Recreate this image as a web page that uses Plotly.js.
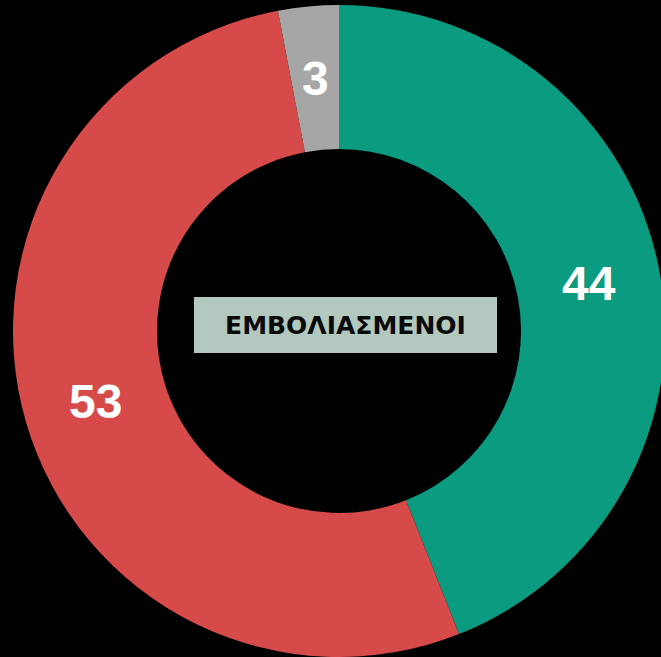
<!DOCTYPE html>
<html><head><meta charset="utf-8">
<script src="https://cdn.plot.ly/plotly-3.0.1.min.js"></script>
<style>html,body{margin:0;padding:0;background:#000;overflow:hidden;width:661px;height:657px}</style>
</head><body><div id="chart"></div>
<script>
const labels = ["Green", "Red", "Gray"];
const values = [44, 53, 3];
const colors = ["#0a9b80", "#d64a4a", "#a6a6a6"];
const centerLabel = "ΕΜΒΟΛΙΑΣΜΕΝΟΙ";

const W = 678, H = 662;
const R = 326, RH = 182, CX = W/2, CY = 331;
const hole = RH / R;
const total = values.reduce((a, b) => a + b, 0);

// Labels for slices placed at the middle of each annular sector
const labelFont = {family: "Liberation Sans, Arial, sans-serif", size: 48, color: "#ffffff", weight: "bold"};
const sliceAnnotations = [];
let cum = 0;
values.forEach((v) => {
  const mid = (cum + v / 2) / total * 2 * Math.PI;
  cum += v;
  const rm = (R + RH) / 2;
  const px = CX + rm * Math.sin(mid);
  const py = CY - rm * Math.cos(mid);
  sliceAnnotations.push({
    text: "<b>" + v + "</b>",
    xref: "paper", yref: "paper",
    x: px / W, y: (H - py) / H,
    xanchor: "center", yanchor: "middle",
    showarrow: false,
    font: labelFont
  });
});

Plotly.newPlot("chart", [{
  type: "pie",
  labels: labels,
  values: values,
  sort: false,
  direction: "clockwise",
  rotation: 0,
  hole: hole,
  marker: {colors: colors, line: {width: 0}},
  textinfo: "none",
  domain: {x: [0, 1], y: [(H - CY - R) / H, (H - CY + R) / H]},
  showlegend: false,
  hoverinfo: "none"
}], {
  width: W, height: H,
  margin: {l: 0, r: 0, t: 0, b: 0},
  paper_bgcolor: "#000000",
  plot_bgcolor: "#000000",
  annotations: sliceAnnotations.concat([{
    text: "<b>" + centerLabel + "</b>",
    xref: "paper", yref: "paper",
    x: 345.5 / W, y: (H - 325) / H,
    xanchor: "center", yanchor: "middle",
    showarrow: false,
    bgcolor: "#b3c9bf",
    width: 303, height: 56,
    borderpad: 0, borderwidth: 0,
    font: {family: "DejaVu Sans, sans-serif", size: 25, color: "#0a0a0a"}
  }])
}, {staticPlot: true, displayModeBar: false});
</script></body></html>
